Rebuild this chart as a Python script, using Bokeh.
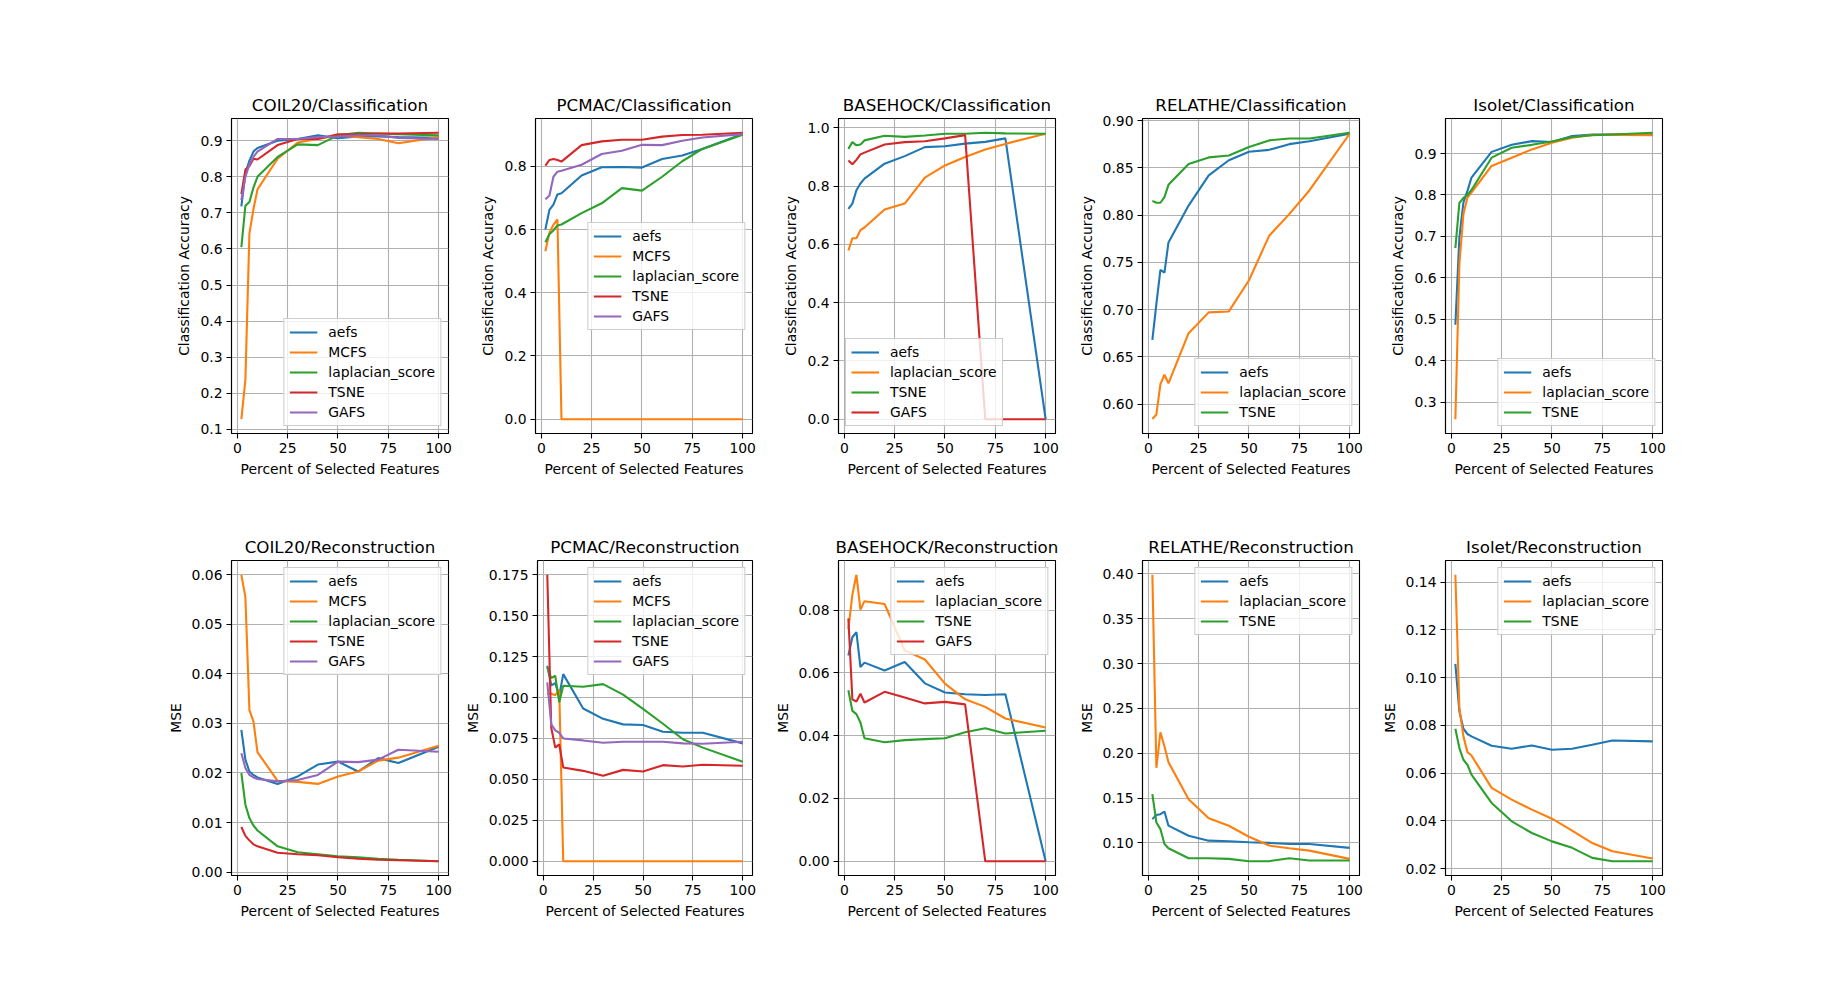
from bokeh.plotting import figure
from bokeh.models import Range1d, FixedTicker, PrintfTickFormatter, Legend, LegendItem, Spacer
from bokeh.layouts import row, column
from bokeh.embed import file_html
from bokeh.resources import INLINE

# Percent of selected features (x values shared by every panel)
pct = [2, 4, 6, 8, 10, 20, 30, 40, 50, 60, 70, 80, 100]
x_ticks = [0, 25, 50, 75, 100]

# ---- Classification accuracy ----
coil20_cls_aefs = [0.718, 0.81, 0.845, 0.87, 0.88, 0.90, 0.905, 0.915, 0.907, 0.912, 0.912, 0.91, 0.908]
coil20_cls_mcfs = [0.128, 0.237, 0.643, 0.71, 0.765, 0.85, 0.895, 0.905, 0.915, 0.91, 0.905, 0.893, 0.91]
coil20_cls_lap = [0.605, 0.72, 0.73, 0.77, 0.80, 0.855, 0.89, 0.888, 0.915, 0.922, 0.92, 0.918, 0.915]
coil20_cls_tsne = [0.752, 0.82, 0.83, 0.85, 0.848, 0.888, 0.905, 0.905, 0.918, 0.918, 0.92, 0.92, 0.922]
coil20_cls_gafs = [0.735, 0.80, 0.835, 0.855, 0.87, 0.905, 0.905, 0.91, 0.912, 0.915, 0.915, 0.908, 0.905]
coil20_cls_ticks = [0.1, 0.2, 0.3, 0.4, 0.5, 0.6, 0.7, 0.8, 0.9]

pcmac_cls_aefs = [0.60, 0.662, 0.679, 0.711, 0.715, 0.771, 0.797, 0.798, 0.796, 0.823, 0.834, 0.855, 0.902]
pcmac_cls_mcfs = [0.531, 0.59, 0.615, 0.632, 0.0, 0.0, 0.0, 0.0, 0.0, 0.0, 0.0, 0.0, 0.0]
pcmac_cls_lap = [0.56, 0.585, 0.597, 0.613, 0.616, 0.652, 0.683, 0.731, 0.723, 0.767, 0.816, 0.855, 0.90]
pcmac_cls_tsne = [0.802, 0.82, 0.823, 0.82, 0.815, 0.867, 0.879, 0.884, 0.884, 0.894, 0.899, 0.90, 0.906]
pcmac_cls_gafs = [0.696, 0.707, 0.767, 0.783, 0.786, 0.805, 0.839, 0.849, 0.868, 0.867, 0.881, 0.891, 0.902]
pcmac_cls_ticks = [0.0, 0.2, 0.4, 0.6, 0.8]

basehock_cls_aefs = [0.722, 0.74, 0.786, 0.809, 0.826, 0.877, 0.903, 0.934, 0.937, 0.946, 0.952, 0.964, 0.0]
basehock_cls_lap = [0.579, 0.621, 0.621, 0.649, 0.658, 0.72, 0.74, 0.829, 0.871, 0.90, 0.926, 0.945, 0.98]
basehock_cls_tsne = [0.928, 0.951, 0.94, 0.943, 0.957, 0.973, 0.969, 0.974, 0.98, 0.98, 0.983, 0.981, 0.98]
basehock_cls_gafs = [0.888, 0.875, 0.89, 0.909, 0.915, 0.943, 0.951, 0.954, 0.964, 0.975, 0.0, 0.0, 0.0]
basehock_cls_ticks = [0.0, 0.2, 0.4, 0.6, 0.8, 1.0]

relathe_cls_aefs = [0.668, 0.706, 0.742, 0.739, 0.771, 0.81, 0.842, 0.858, 0.867, 0.869, 0.875, 0.878, 0.886]
relathe_cls_lap = [0.584, 0.589, 0.621, 0.631, 0.622, 0.675, 0.697, 0.698, 0.731, 0.778, 0.801, 0.826, 0.886]
relathe_cls_tsne = [0.815, 0.813, 0.813, 0.819, 0.832, 0.854, 0.861, 0.863, 0.872, 0.879, 0.881, 0.881, 0.887]
relathe_cls_ticks = [0.60, 0.65, 0.70, 0.75, 0.80, 0.85, 0.90]

isolet_cls_aefs = [0.487, 0.698, 0.782, 0.81, 0.842, 0.904, 0.921, 0.93, 0.928, 0.942, 0.946, 0.946, 0.946]
isolet_cls_lap = [0.259, 0.634, 0.754, 0.794, 0.806, 0.87, 0.89, 0.91, 0.926, 0.938, 0.945, 0.945, 0.944]
isolet_cls_tsne = [0.672, 0.781, 0.793, 0.80, 0.812, 0.89, 0.914, 0.921, 0.929, 0.94, 0.944, 0.946, 0.95]
isolet_cls_ticks = [0.3, 0.4, 0.5, 0.6, 0.7, 0.8, 0.9]

# ---- Reconstruction MSE ----
coil20_rec_aefs = [0.0287, 0.0227, 0.0203, 0.0196, 0.0191, 0.0178, 0.0193, 0.0217, 0.0223, 0.0203, 0.0230, 0.0220, 0.0253]
coil20_rec_mcfs = [0.0600, 0.0555, 0.0327, 0.0304, 0.0242, 0.0184, 0.0182, 0.0178, 0.0193, 0.0203, 0.0225, 0.0231, 0.0255]
coil20_rec_lap = [0.0200, 0.0136, 0.0109, 0.0094, 0.0084, 0.0052, 0.0040, 0.0036, 0.0032, 0.0030, 0.0027, 0.0025, 0.0022]
coil20_rec_tsne = [0.0091, 0.0073, 0.0064, 0.0056, 0.0052, 0.0039, 0.0036, 0.0034, 0.0030, 0.0027, 0.0025, 0.0024, 0.0022]
coil20_rec_gafs = [0.0240, 0.0210, 0.0196, 0.0191, 0.0188, 0.0183, 0.0186, 0.0196, 0.0223, 0.0222, 0.0227, 0.0247, 0.0243]
coil20_rec_ticks = [0.00, 0.01, 0.02, 0.03, 0.04, 0.05, 0.06]

pcmac_rec_aefs = [0.1194, 0.1074, 0.1088, 0.1010, 0.1143, 0.0933, 0.0870, 0.0836, 0.0832, 0.0791, 0.0785, 0.0785, 0.0720]
pcmac_rec_mcfs = [0.1022, 0.1024, 0.1014, 0.1048, 0.0, 0.0, 0.0, 0.0, 0.0, 0.0, 0.0, 0.0, 0.0]
pcmac_rec_lap = [0.1184, 0.1119, 0.1133, 0.0971, 0.1072, 0.1066, 0.1082, 0.1018, 0.0931, 0.0840, 0.0745, 0.0694, 0.0607]
pcmac_rec_tsne = [0.1750, 0.0815, 0.0694, 0.0714, 0.0573, 0.0552, 0.0522, 0.0558, 0.0548, 0.0587, 0.0579, 0.0589, 0.0583]
pcmac_rec_gafs = [0.1093, 0.0836, 0.0799, 0.0785, 0.0750, 0.0738, 0.0724, 0.0730, 0.0730, 0.0730, 0.0720, 0.0718, 0.0730]
pcmac_rec_ticks = [0.000, 0.025, 0.050, 0.075, 0.100, 0.125, 0.150, 0.175]

basehock_rec_aefs = [0.0656, 0.0714, 0.0730, 0.0619, 0.0633, 0.0608, 0.0635, 0.0567, 0.0538, 0.0532, 0.0530, 0.0532, 0.0]
basehock_rec_lap = [0.0739, 0.0850, 0.0913, 0.0802, 0.0829, 0.0820, 0.0672, 0.0643, 0.0566, 0.0516, 0.0492, 0.0455, 0.0426]
basehock_rec_tsne = [0.0545, 0.0479, 0.0469, 0.0442, 0.0392, 0.0379, 0.0386, 0.0389, 0.0392, 0.0411, 0.0424, 0.0407, 0.0416]
basehock_rec_gafs = [0.0774, 0.0516, 0.0509, 0.0534, 0.0506, 0.0540, 0.0522, 0.0503, 0.0508, 0.0500, 0.0, 0.0, 0.0]
basehock_rec_ticks = [0.00, 0.02, 0.04, 0.06, 0.08]

relathe_rec_aefs = [0.1265, 0.131, 0.132, 0.135, 0.1192, 0.108, 0.1025, 0.1018, 0.1007, 0.100, 0.0988, 0.0988, 0.0944]
relathe_rec_lap = [0.399, 0.1838, 0.2234, 0.2078, 0.190, 0.1487, 0.1276, 0.1191, 0.1069, 0.097, 0.094, 0.0914, 0.0822]
relathe_rec_tsne = [0.1543, 0.1228, 0.1154, 0.0988, 0.094, 0.0829, 0.0829, 0.0822, 0.0796, 0.0796, 0.0829, 0.0803, 0.0803]
relathe_rec_ticks = [0.10, 0.15, 0.20, 0.25, 0.30, 0.35, 0.40]

isolet_rec_aefs = [0.1058, 0.0859, 0.0786, 0.0764, 0.0754, 0.0715, 0.0702, 0.0716, 0.0698, 0.0702, 0.0719, 0.0737, 0.0733]
isolet_rec_lap = [0.1431, 0.0873, 0.0754, 0.0688, 0.0674, 0.0538, 0.0489, 0.0447, 0.0409, 0.0359, 0.0307, 0.0273, 0.0242]
isolet_rec_tsne = [0.0786, 0.0705, 0.0656, 0.0635, 0.0594, 0.0475, 0.0398, 0.0349, 0.0314, 0.0287, 0.0245, 0.0231, 0.0231]
isolet_rec_ticks = [0.02, 0.04, 0.06, 0.08, 0.10, 0.12, 0.14]

COLORS = ["#1f77b4", "#ff7f0e", "#2ca02c", "#d62728", "#9467bd"]
FONT = "DejaVu Sans"
ACC = "Classification Accuracy"
XLAB = "Percent of Selected Features"

top_panels = [
    dict(title="COIL20/Classification", ylabel=ACC, ticks=coil20_cls_ticks, fmt="%.1f", loc="bottom_right",
         series=[("aefs", coil20_cls_aefs), ("MCFS", coil20_cls_mcfs), ("laplacian_score", coil20_cls_lap),
                 ("TSNE", coil20_cls_tsne), ("GAFS", coil20_cls_gafs)]),
    dict(title="PCMAC/Classification", ylabel=ACC, ticks=pcmac_cls_ticks, fmt="%.1f", loc="center_right",
         series=[("aefs", pcmac_cls_aefs), ("MCFS", pcmac_cls_mcfs), ("laplacian_score", pcmac_cls_lap),
                 ("TSNE", pcmac_cls_tsne), ("GAFS", pcmac_cls_gafs)]),
    dict(title="BASEHOCK/Classification", ylabel=ACC, ticks=basehock_cls_ticks, fmt="%.1f", loc="bottom_left",
         series=[("aefs", basehock_cls_aefs), ("laplacian_score", basehock_cls_lap),
                 ("TSNE", basehock_cls_tsne), ("GAFS", basehock_cls_gafs)]),
    dict(title="RELATHE/Classification", ylabel=ACC, ticks=relathe_cls_ticks, fmt="%.2f", loc="bottom_right",
         series=[("aefs", relathe_cls_aefs), ("laplacian_score", relathe_cls_lap), ("TSNE", relathe_cls_tsne)]),
    dict(title="Isolet/Classification", ylabel=ACC, ticks=isolet_cls_ticks, fmt="%.1f", loc="bottom_right",
         series=[("aefs", isolet_cls_aefs), ("laplacian_score", isolet_cls_lap), ("TSNE", isolet_cls_tsne)]),
]

bottom_panels = [
    dict(title="COIL20/Reconstruction", ylabel="MSE", ticks=coil20_rec_ticks, fmt="%.2f", loc="top_right",
         series=[("aefs", coil20_rec_aefs), ("MCFS", coil20_rec_mcfs), ("laplacian_score", coil20_rec_lap),
                 ("TSNE", coil20_rec_tsne), ("GAFS", coil20_rec_gafs)]),
    dict(title="PCMAC/Reconstruction", ylabel="MSE", ticks=pcmac_rec_ticks, fmt="%.3f", loc="top_right",
         series=[("aefs", pcmac_rec_aefs), ("MCFS", pcmac_rec_mcfs), ("laplacian_score", pcmac_rec_lap),
                 ("TSNE", pcmac_rec_tsne), ("GAFS", pcmac_rec_gafs)]),
    dict(title="BASEHOCK/Reconstruction", ylabel="MSE", ticks=basehock_rec_ticks, fmt="%.2f", loc="top_right",
         series=[("aefs", basehock_rec_aefs), ("laplacian_score", basehock_rec_lap),
                 ("TSNE", basehock_rec_tsne), ("GAFS", basehock_rec_gafs)]),
    dict(title="RELATHE/Reconstruction", ylabel="MSE", ticks=relathe_rec_ticks, fmt="%.2f", loc="top_right",
         series=[("aefs", relathe_rec_aefs), ("laplacian_score", relathe_rec_lap), ("TSNE", relathe_rec_tsne)]),
    dict(title="Isolet/Reconstruction", ylabel="MSE", ticks=isolet_rec_ticks, fmt="%.2f", loc="top_right",
         series=[("aefs", isolet_rec_aefs), ("laplacian_score", isolet_rec_lap), ("TSNE", isolet_rec_tsne)]),
]

FRAME_W, FRAME_H = 217, 315
LEFT, TOP, BOTTOM = 74, 50, 77
RIGHTS = [13, 12, 13, 12, 13]
TICK_PX = "13.9px"


def padded(lo, hi, frac=0.05):
    pad = (hi - lo) * frac
    return lo - pad, hi + pad


def make_panel(cfg, right):
    ys = [v for _, vals in cfg["series"] for v in vals]
    y0, y1 = padded(min(ys), max(ys))
    x0, x1 = padded(min(pct), max(pct))
    p = figure(width=LEFT + FRAME_W + right, height=TOP + FRAME_H + BOTTOM,
               x_range=Range1d(x0, x1), y_range=Range1d(y0, y1),
               output_backend="svg", toolbar_location=None, title=cfg["title"],
               min_border_left=LEFT, min_border_right=right,
               min_border_top=TOP, min_border_bottom=BOTTOM)
    p.background_fill_color = "white"
    p.border_fill_color = "white"
    p.outline_line_color = "black"
    p.outline_line_width = 1.1
    p.outline_line_alpha = 1.0

    p.title.text_font = FONT
    p.title.text_font_size = "16.7px"
    p.title.text_font_style = "normal"
    p.title.text_color = "black"
    p.title.align = "center"
    p.title.standoff = 8

    p.xaxis.ticker = FixedTicker(ticks=x_ticks)
    p.yaxis.ticker = FixedTicker(ticks=cfg["ticks"])
    p.yaxis.formatter = PrintfTickFormatter(format=cfg["fmt"])
    p.xaxis.axis_label = XLAB
    p.yaxis.axis_label = cfg["ylabel"]
    for ax in (p.xaxis, p.yaxis):
        ax.axis_label_text_font = FONT
        ax.axis_label_text_font_size = TICK_PX
        ax.axis_label_text_font_style = "normal"
        ax.axis_label_text_color = "black"
        ax.axis_label_standoff = 5
        ax.major_label_text_font = FONT
        ax.major_label_text_font_size = TICK_PX
        ax.major_label_text_color = "black"
        ax.major_label_standoff = 4
        ax.major_tick_in = 0
        ax.major_tick_out = 5
        ax.major_tick_line_width = 1.1
        ax.major_tick_line_color = "black"
        ax.minor_tick_in = 0
        ax.minor_tick_out = 0
        ax.axis_line_color = "black"
        ax.axis_line_width = 1.1
    for g in (p.xgrid, p.ygrid):
        g.grid_line_color = "#b0b0b0"
        g.grid_line_width = 1.1

    items = []
    for i, (name, vals) in enumerate(cfg["series"]):
        r = p.line(pct, vals, line_color=COLORS[i], line_width=2.1)
        items.append(LegendItem(label=name, renderers=[r]))

    legend = Legend(items=items, location=cfg["loc"], margin=7, padding=5,
                    spacing=4, label_height=16, glyph_height=16, glyph_width=28,
                    label_standoff=11, label_text_font=FONT, label_text_font_size=TICK_PX,
                    label_text_color="black", background_fill_color="white",
                    background_fill_alpha=0.8, border_line_color="#cccccc",
                    border_line_width=1.1, border_line_alpha=1.0)
    p.add_layout(legend)
    return p


row1 = row([Spacer(width=231 - LEFT, height=10)] +
           [make_panel(c, RIGHTS[i]) for i, c in enumerate(top_panels)])
row2 = row([Spacer(width=231 - LEFT, height=10)] +
           [make_panel(c, RIGHTS[i]) for i, c in enumerate(bottom_panels)])
page = column(Spacer(width=10, height=118 - TOP), row1, row2)

with open("out.html", "w") as f:
    f.write(file_html(page, INLINE, title="Feature selection results"))
